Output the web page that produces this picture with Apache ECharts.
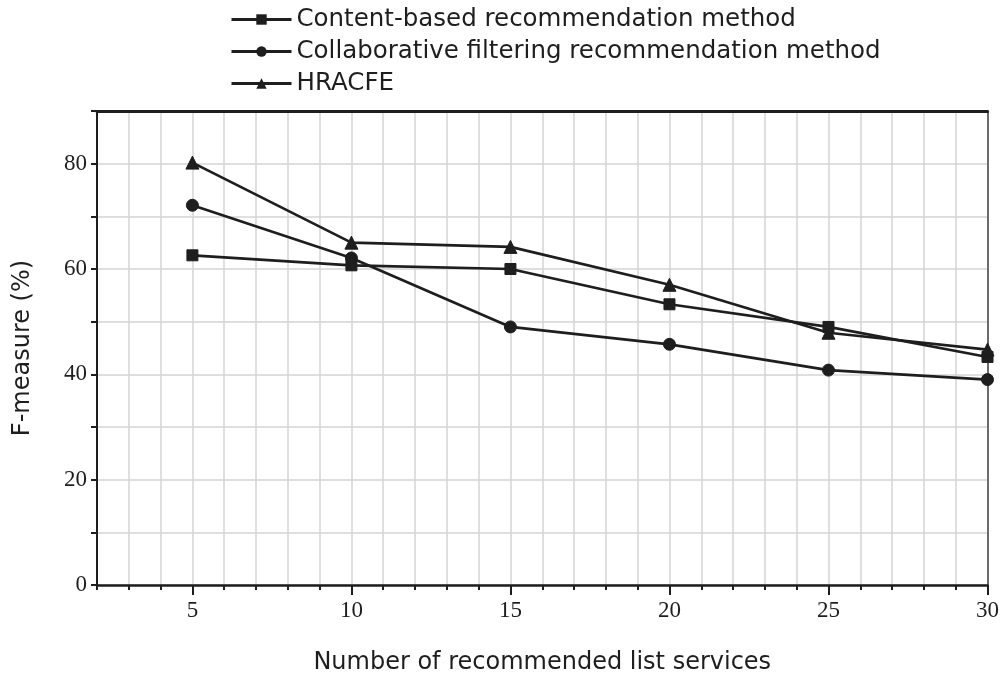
<!DOCTYPE html>
<html>
<head>
<meta charset="utf-8">
<script src="https://cdn.jsdelivr.net/npm/echarts@6/dist/echarts.min.js"></script>
<style>html,body{margin:0;padding:0;background:#fff;}#chart{width:1002px;height:680px;}</style>
</head>
<body>
<div id="chart"></div>
<script>
const seriesNames = ['Content-based recommendation method', 'Collaborative filtering recommendation method', 'HRACFE'];
const xValues = [5, 10, 15, 20, 25, 30];
const contentBased = [62.6, 60.7, 60.0, 53.3, 49.0, 43.3];
const collaborative = [72.1, 62.1, 49.0, 45.7, 40.8, 39.0];
const hracfe = [80.2, 65.0, 64.2, 57.0, 47.9, 44.7];
const xMajorTicks = [5, 10, 15, 20, 25, 30];
const yLabelTicks = [0, 20, 40, 60, 80];

const zip = arr => xValues.map((x, i) => [x, arr[i]]);
const ink = '#1e1e1e';
const sans = 'DejaVu Sans';
const serif = 'Liberation Serif';

const chart = echarts.init(document.getElementById('chart'), null, {renderer: 'canvas'});
const mk = (name, data, symbol, size) => ({
  name, type: 'line', data: zip(data), symbol, symbolSize: size,
  xAxisIndex: 0, yAxisIndex: 0,
  lineStyle: {color: ink, width: 2.7},
  itemStyle: {color: ink, borderColor: ink},
  animation: false
});
chart.setOption({
  backgroundColor: '#fff',
  animation: false,
  legend: {
    orient: 'vertical', left: 225, top: 2,
    itemWidth: 60, itemHeight: 13, itemGap: 7,
    lineStyle: {width: 3, color: ink},
    textStyle: {fontFamily: sans, fontSize: 24.5, color: ink, lineHeight: 24},
    data: seriesNames
  },
  grid: {left: 97, right: 13, top: 111, bottom: 93},
  xAxis: [
    {
      type: 'value', min: 2, max: 30, interval: 1, position: 'bottom',
      axisLine: {show: true, lineStyle: {color: ink, width: 2.5}},
      axisTick: {show: true, length: 5, lineStyle: {color: ink, width: 2}},
      axisLabel: {show: false},
      splitLine: {show: true, lineStyle: {color: '#d4d4d4', width: 1.5}}
    },
    {
      type: 'value', min: 2, max: 30, position: 'bottom',
      axisLine: {show: false},
      axisTick: {show: true, length: 10, customValues: xMajorTicks, lineStyle: {color: ink, width: 2}},
      axisLabel: {show: true, customValues: xMajorTicks, margin: 14, fontFamily: serif, fontSize: 23, color: ink},
      splitLine: {show: false},
      name: 'Number of recommended list services', nameLocation: 'middle', nameGap: 66,
      nameTextStyle: {fontFamily: sans, fontSize: 24, color: ink}
    },
    {
      type: 'value', min: 2, max: 30, position: 'top',
      axisLine: {show: true, lineStyle: {color: ink, width: 3}},
      axisTick: {show: false}, axisLabel: {show: false}, splitLine: {show: false}
    }
  ],
  yAxis: [
    {
      type: 'value', min: 0, max: 90, interval: 10, position: 'left',
      axisLine: {show: true, lineStyle: {color: ink, width: 2}},
      axisTick: {show: true, length: 6, lineStyle: {color: ink, width: 2}},
      axisLabel: {show: true, margin: 10, fontFamily: serif, fontSize: 23, color: ink,
        formatter: v => (yLabelTicks.indexOf(v) >= 0 ? String(v) : '')},
      splitLine: {show: true, lineStyle: {color: '#d4d4d4', width: 1.5}},
      name: 'F-measure (%)', nameLocation: 'middle', nameGap: 62,
      nameTextStyle: {fontFamily: sans, fontSize: 24, color: ink}
    },
    {
      type: 'value', min: 0, max: 90, position: 'right',
      axisLine: {show: true, lineStyle: {color: '#444', width: 1.5}},
      axisTick: {show: false}, axisLabel: {show: false}, splitLine: {show: false}
    }
  ],
  series: [
    mk(seriesNames[0], contentBased, 'rect', 11),
    mk(seriesNames[1], collaborative, 'circle', 12),
    mk(seriesNames[2], hracfe, 'triangle', 13)
  ]
});
</script>
</body>
</html>
